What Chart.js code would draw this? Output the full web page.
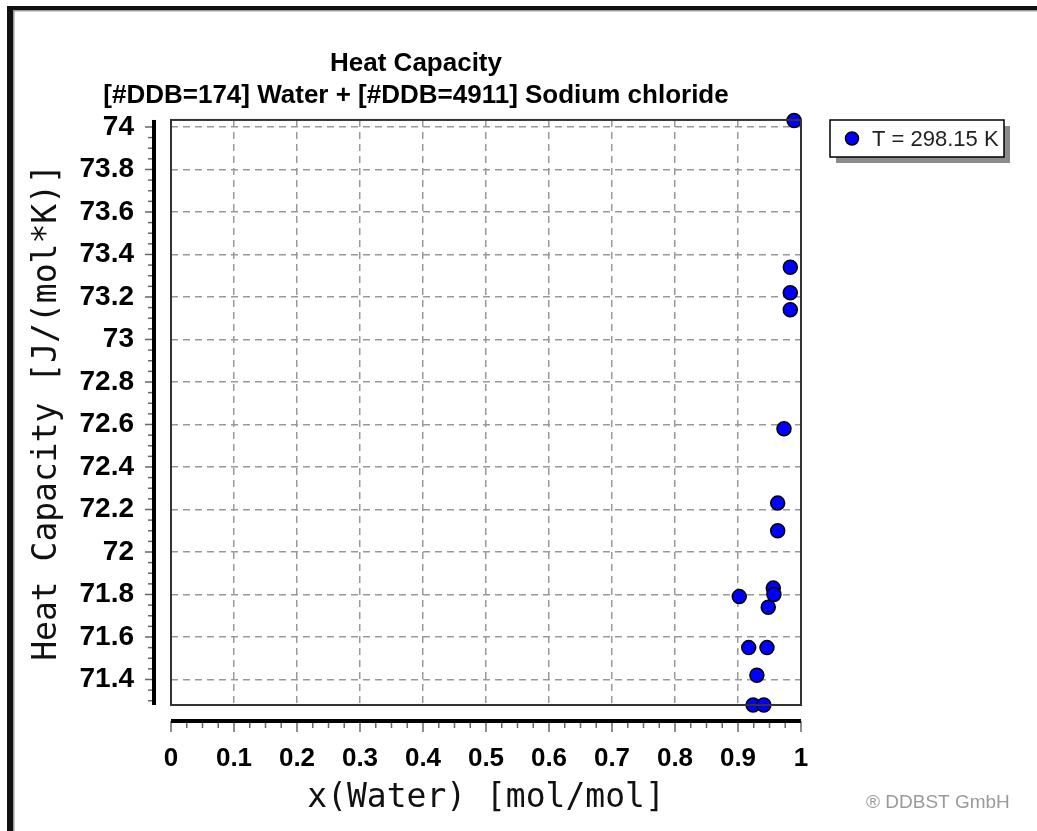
<!DOCTYPE html>
<html>
<head>
<meta charset="utf-8">
<title>Heat Capacity - Water + Sodium chloride</title>
<script src="https://cdn.jsdelivr.net/npm/chart.js@4.4.0/dist/chart.umd.min.js"></script>
<style>
    body { margin: 0; background: #fff; }
    canvas { display: block; }
</style>
</head>
<body>
<canvas id="hc_chart" width="1037" height="831"></canvas>
<script>
// values
const x_water = [0.989, 0.983, 0.983, 0.983, 0.973, 0.963, 0.963, 0.956, 0.957, 0.948, 0.902, 0.917, 0.946, 0.930, 0.924, 0.941]
const heat_capacity = [74.03, 73.34, 73.22, 73.14, 72.58, 72.23, 72.10, 71.83, 71.80, 71.74, 71.79, 71.55, 71.55, 71.42, 71.28, 71.28]
const series_label = 'T = 298.15 K'

const title_lines = ['Heat Capacity', '[#DDB=174] Water + [#DDB=4911] Sodium chloride']
const x_title = 'x(Water) [mol/mol]'
const y_title = 'Heat Capacity [J/(mol*K)]'
const copyright = '\u00AE DDBST GmbH'

const x_range = [0, 1]
const y_range = [71.28, 74.033]
const x_step = 0.1
const y_step = 0.2
const x_minor = 0.025
const y_minor = 0.05

// "74", "73.8", "1" - no padded decimals like the original
function short_label(value) {
    return String(Math.round(value * 1000) / 1000)
}

// ticks on the detached axis lines, major + minor
function axis_ticks(scale, step, minor) {
    let out = []
    let k0 = Math.ceil(scale.min / minor - 1e-6)
    let k1 = Math.floor(scale.max / minor + 1e-6)
    for (let k = k0; k <= k1; k++) {
        let v = k * minor
        let r = v / step
        out.push({pixel: scale.getPixelForValue(v), major: Math.abs(r - Math.round(r)) < 1e-6})
    }
    return out
}

const ddb_decor = {
    id: 'ddb_decor',
    beforeDraw(chart) {
        const ctx = chart.ctx
        ctx.save()
        ctx.fillStyle = '#fff'
        ctx.fillRect(0, 0, chart.width, chart.height)
        // window frame left / top
        ctx.fillStyle = '#111'
        ctx.fillRect(7, 6, 6, chart.height - 6)
        ctx.fillRect(7, 6, chart.width - 7, 4)
        ctx.fillStyle = '#9a9a9a'
        ctx.fillRect(13, 10, 1.5, chart.height - 10)
        ctx.fillRect(13, 10, chart.width - 13, 1.5)
        ctx.restore()
    },
    afterDraw(chart) {
        const ctx = chart.ctx
        const a = chart.chartArea
        const xs = chart.scales.x
        const ys = chart.scales.y
        ctx.save()

        // plot box
        ctx.strokeStyle = '#333'
        ctx.lineWidth = 2
        ctx.strokeRect(a.left, a.top, a.right - a.left, a.bottom - a.top)

        // y axis line, left of the box
        const yx = a.left - 17
        ctx.strokeStyle = '#666'
        ctx.lineWidth = 1.5
        for (let t of axis_ticks(ys, y_step, y_minor)) {
            ctx.beginPath()
            ctx.moveTo(yx - 2 - (t.major ? 7 : 4), t.pixel)
            ctx.lineTo(yx, t.pixel)
            ctx.stroke()
        }
        ctx.fillStyle = '#000'
        ctx.fillRect(yx - 2, a.top, 4, a.bottom - a.top)

        // x axis line, below the box
        const xy = a.bottom + 16
        ctx.strokeStyle = '#666'
        for (let t of axis_ticks(xs, x_step, x_minor)) {
            ctx.beginPath()
            ctx.moveTo(t.pixel, xy)
            ctx.lineTo(t.pixel, xy + 2 + (t.major ? 9 : 5))
            ctx.stroke()
        }
        ctx.fillStyle = '#000'
        ctx.fillRect(a.left, xy - 2, a.right - a.left, 4)

        // legend box with drop shadow
        const ds = chart.data.datasets[0]
        const lx = 830, ly = 120, lw = 174, lh = 37
        ctx.fillStyle = '#8c8c8c'
        ctx.fillRect(lx + 6, ly + 6, lw, lh)
        ctx.fillStyle = '#fff'
        ctx.fillRect(lx, ly, lw, lh)
        ctx.strokeStyle = '#000'
        ctx.lineWidth = 1.5
        ctx.strokeRect(lx, ly, lw, lh)
        ctx.beginPath()
        ctx.arc(lx + 22, ly + 18.5, 6.5, 0, Math.PI * 2)
        ctx.fillStyle = ds.backgroundColor
        ctx.fill()
        ctx.stroke()
        ctx.fillStyle = '#222'
        ctx.font = "22px 'Liberation Sans', Arial, sans-serif"
        ctx.textBaseline = 'middle'
        ctx.textAlign = 'left'
        ctx.fillText(ds.label, lx + 42, ly + 19.5)

        // copyright
        ctx.fillStyle = '#9a9a9a'
        ctx.font = "19px 'Liberation Sans', Arial, sans-serif"
        ctx.fillText(copyright, 866, 803)
        ctx.restore()
    }
}

var chartdata = {
    datasets: [
        {
            label: series_label,
            data: x_water.map((x, i) => ({x: x, y: heat_capacity[i]})),
            backgroundColor: '#0000ff',
            borderColor: '#000',
            borderWidth: 1.5,
            pointRadius: 7,
            pointHoverRadius: 7,
            showLine: false,
            clip: false,
        }
    ]
}

const hc_chart = new Chart('hc_chart', {
    type: 'scatter',
    data: chartdata,
    plugins: [ddb_decor],
    options: {
        responsive: false,
        animation: false,
        layout: {
            padding: {left: 31, right: 236, top: 0, bottom: 0}
        },
        plugins: {
            legend: {display: false},
            tooltip: {enabled: false},
            title: {
                display: true,
                text: title_lines,
                color: '#000',
                font: {family: "'Liberation Sans', Arial, sans-serif", size: 26, weight: 'bold', lineHeight: 1.23},
                padding: {top: 47.5, bottom: 8.5}
            }
        },
        scales: {
            x: {
                type: 'linear',
                min: x_range[0],
                max: x_range[1],
                afterFit: (scale) => { scale.height = 126 },
                ticks: {
                    stepSize: x_step,
                    color: '#000',
                    padding: 38,
                    callback: short_label,
                    font: {family: "'Liberation Sans', Arial, sans-serif", size: 26, weight: 'bold'}
                },
                grid: {color: '#999', lineWidth: 1.5, drawTicks: false},
                border: {display: false, dash: [7, 5]},
                title: {
                    display: true,
                    text: x_title,
                    color: '#111',
                    font: {family: "'DejaVu Sans Mono', monospace", size: 33, lineHeight: 1},
                    padding: {top: 0, bottom: 16.5}
                }
            },
            y: {
                type: 'linear',
                min: y_range[0],
                max: y_range[1],
                afterFit: (scale) => { scale.width = 140 },
                ticks: {
                    stepSize: y_step,
                    includeBounds: false,
                    color: '#000',
                    padding: 37,
                    callback: short_label,
                    font: {family: "'Liberation Sans', Arial, sans-serif", size: 28, weight: 'bold'}
                },
                grid: {color: '#999', lineWidth: 1.5, drawTicks: false},
                border: {display: false, dash: [7, 5]},
                title: {
                    display: true,
                    text: y_title,
                    color: '#111',
                    font: {family: "'DejaVu Sans Mono', monospace", size: 33, lineHeight: 1},
                    padding: {top: 0, bottom: 0}
                }
            }
        }
    }
})
</script>
</body>
</html>
